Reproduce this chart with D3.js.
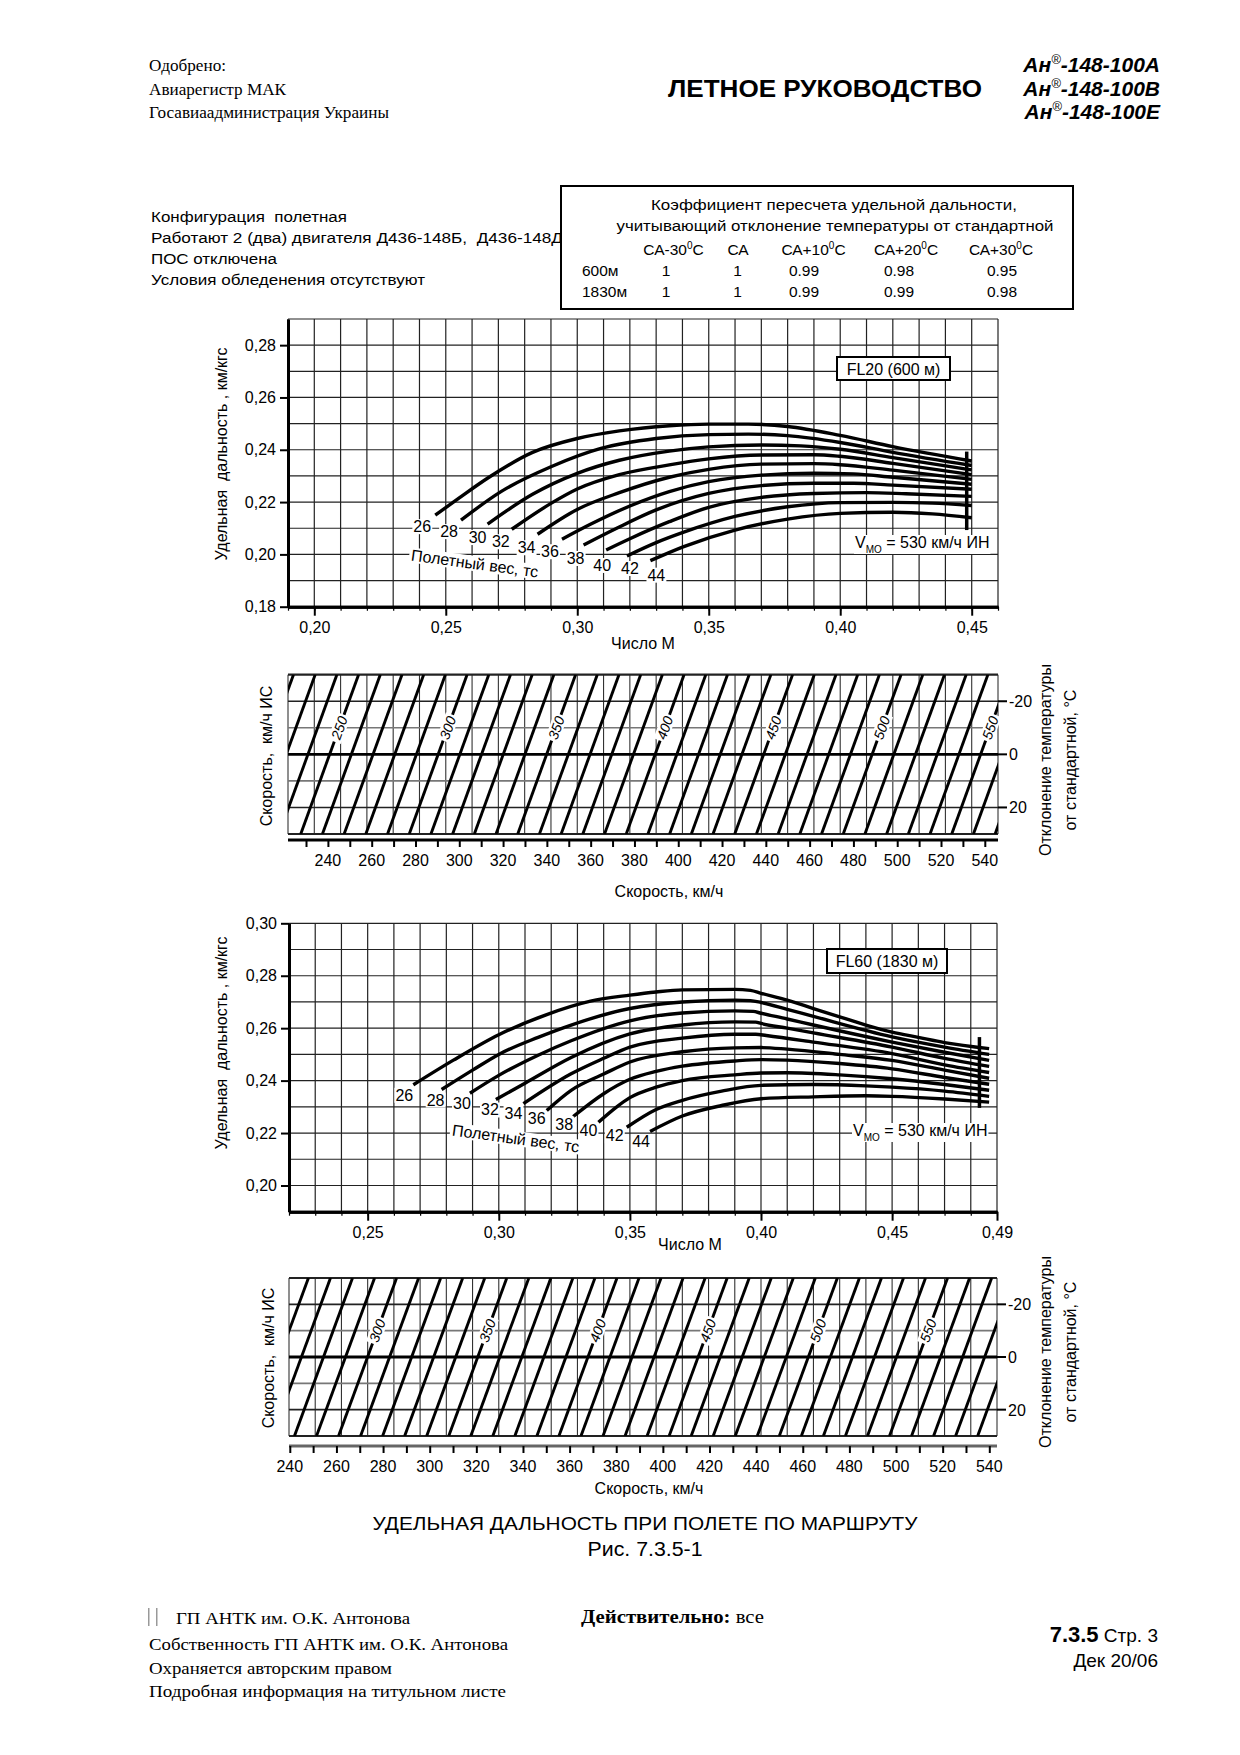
<!DOCTYPE html>
<html><head><meta charset="utf-8">
<script src="https://cdn.jsdelivr.net/npm/d3@7"></script>
<style>
body{margin:0;background:#fff;}
svg text{font-family:"Liberation Sans",Arial,sans-serif;fill:#000;white-space:pre;}
</style></head>
<body><svg id="page" width="1240" height="1755" xmlns="http://www.w3.org/2000/svg"></svg>
<script>
// ---------------- DATA ----------------
const headerLeft = ["Одобрено:", "Авиарегистр МАК", "Госавиаадминистрация Украины"];
const modelNames = ["-148-100A", "-148-100B", "-148-100E"];
const configLines = ["Конфигурация  полетная", "Работают 2 (два) двигателя Д436-148Б,  Д436-148Д", "ПОС отключена", "Условия обледенения отсутствуют"];
const tableTitle = ["Коэффициент пересчета удельной дальности,", "учитывающий отклонение температуры от стандартной"];
const tableCols = [["СА-30", "С"], ["СА", ""], ["СА+10", "С"], ["СА+20", "С"], ["СА+30", "С"]];
const tableRows = ["600м", "1830м"];
const coef600 = ["1", "1", "0.99", "0.98", "0.95"];
const coef1830 = ["1", "1", "0.99", "0.99", "0.98"];

const weights = [26, 28, 30, 32, 34, 36, 38, 40, 42, 44];

// FL20 (600 m): Mach number and specific range (km/kgf) along each weight curve
const fl20Mach = [
 [0.246,0.255,0.266,0.283,0.300,0.316,0.335,0.350,0.365,0.380,0.400,0.420,0.450],
 [0.2558,0.271,0.290,0.309,0.330,0.350,0.365,0.380,0.400,0.420,0.450],
 [0.2659,0.283,0.300,0.316,0.335,0.350,0.370,0.385,0.400,0.420,0.450],
 [0.2751,0.290,0.300,0.316,0.335,0.350,0.370,0.390,0.400,0.420,0.450],
 [0.2849,0.300,0.316,0.335,0.350,0.370,0.390,0.400,0.420,0.450],
 [0.2942,0.305,0.320,0.335,0.350,0.370,0.390,0.405,0.420,0.450],
 [0.3024,0.315,0.330,0.350,0.370,0.390,0.405,0.420,0.450],
 [0.3110,0.320,0.335,0.350,0.370,0.390,0.410,0.425,0.450],
 [0.3189,0.330,0.3405,0.360,0.380,0.400,0.420,0.435,0.450],
 [0.3278,0.3405,0.360,0.380,0.400,0.420,0.435,0.450]
];
const fl20Range = [
 [0.2150,0.2215,0.2292,0.2390,0.2443,0.2472,0.2492,0.2498,0.2498,0.2489,0.2455,0.2412,0.2357],
 [0.2131,0.2240,0.2335,0.2405,0.2443,0.2458,0.2460,0.2454,0.2428,0.2390,0.2340],
 [0.2116,0.2230,0.2310,0.2360,0.2395,0.2411,0.2418,0.2415,0.2402,0.2370,0.2323],
 [0.2096,0.2195,0.2250,0.2305,0.2342,0.2365,0.2380,0.2381,0.2375,0.2348,0.2305],
 [0.2077,0.2172,0.2236,0.2295,0.2325,0.2345,0.2347,0.2343,0.2322,0.2287],
 [0.2058,0.2115,0.2185,0.2240,0.2278,0.2303,0.2310,0.2308,0.2295,0.2268],
 [0.2036,0.2100,0.2170,0.2233,0.2263,0.2272,0.2272,0.2265,0.2249],
 [0.2017,0.2060,0.2125,0.2180,0.2218,0.2233,0.2236,0.2232,0.2222],
 [0.1994,0.2045,0.2085,0.2145,0.2182,0.2198,0.2199,0.2196,0.2187],
 [0.1976,0.2030,0.2093,0.2135,0.2157,0.2161,0.2155,0.2140]
];

// FL60 (1830 m)
const fl60Mach = [
 [0.2674,0.2827,0.300,0.3183,0.335,0.350,0.360,0.370,0.390,0.396,0.400,0.410,0.420,0.430,0.440,0.450,0.460,0.470,0.487],
 [0.2782,0.290,0.300,0.315,0.3276,0.350,0.370,0.390,0.396,0.400,0.410,0.420,0.450,0.470,0.487],
 [0.2890,0.300,0.315,0.3276,0.350,0.370,0.390,0.397,0.400,0.410,0.420,0.450,0.470,0.487],
 [0.2989,0.310,0.3276,0.350,0.370,0.390,0.398,0.400,0.410,0.420,0.450,0.470,0.487],
 [0.3094,0.3276,0.340,0.350,0.370,0.390,0.398,0.402,0.420,0.450,0.470,0.487],
 [0.3183,0.3276,0.340,0.350,0.370,0.390,0.400,0.410,0.430,0.450,0.470,0.487],
 [0.3284,0.340,0.350,0.360,0.370,0.390,0.400,0.410,0.430,0.450,0.470,0.487],
 [0.3380,0.345,0.350,0.360,0.370,0.390,0.400,0.410,0.430,0.450,0.470,0.487],
 [0.3488,0.360,0.370,0.385,0.400,0.420,0.440,0.450,0.470,0.487],
 [0.3577,0.370,0.385,0.400,0.420,0.440,0.450,0.470,0.487]
];
const fl60Range = [
 [0.2384,0.2478,0.2575,0.2652,0.2703,0.2726,0.2738,0.2746,0.2748,0.2744,0.2733,0.2707,0.2675,0.2643,0.2612,0.2585,0.2565,0.2545,0.2522],
 [0.2366,0.2440,0.2500,0.2565,0.2612,0.2675,0.2700,0.2707,0.2705,0.2698,0.2672,0.2645,0.2567,0.2528,0.2500],
 [0.2352,0.2420,0.2497,0.2552,0.2628,0.2658,0.2666,0.2664,0.2657,0.2635,0.2612,0.2547,0.2508,0.2477],
 [0.2328,0.2390,0.2488,0.2578,0.2612,0.2624,0.2623,0.2618,0.2600,0.2582,0.2528,0.2485,0.2454],
 [0.2312,0.2426,0.2485,0.2528,0.2562,0.2577,0.2577,0.2572,0.2547,0.2503,0.2460,0.2431],
 [0.2286,0.2363,0.2425,0.2471,0.2510,0.2525,0.2526,0.2520,0.2500,0.2477,0.2440,0.2409],
 [0.2263,0.2350,0.2405,0.2435,0.2455,0.2475,0.2480,0.2478,0.2465,0.2445,0.2412,0.2386],
 [0.2241,0.2300,0.2335,0.2375,0.2400,0.2422,0.2429,0.2430,0.2422,0.2407,0.2385,0.2363],
 [0.2222,0.2290,0.2325,0.2360,0.2382,0.2385,0.2380,0.2375,0.2360,0.2340],
 [0.2206,0.2265,0.2305,0.2331,0.2338,0.2342,0.2340,0.2330,0.2318]
];

const fl20XTicks = [0.20, 0.25, 0.30, 0.35, 0.40, 0.45];
const fl20YTicks = [0.18, 0.20, 0.22, 0.24, 0.26, 0.28];
const fl60XTicks = [0.25, 0.30, 0.35, 0.40, 0.45, 0.49];
const fl60YTicks = [0.20, 0.22, 0.24, 0.26, 0.28, 0.30];

// Vmo = 530 km/h IAS limit marks
const vmo20Mach = 0.4481, vmo20Range = [0.2093, 0.2393];
const vmo60Mach = 0.4833, vmo60Range = [0.2296, 0.2566];

// Speed nomograms
const speedLabels = [240, 260, 280, 300, 320, 340, 360, 380, 400, 420, 440, 460, 480, 500, 520, 540];
const speedTicks600 = [230, 240, 250, 260, 270, 280, 290, 300, 310, 320, 330, 340, 350, 360, 370, 380, 390, 400, 410, 420, 430, 440, 450, 460, 470, 480, 490, 500, 510, 520, 530, 540];
const speedTicks1830 = [240, 250, 260, 270, 280, 290, 300, 310, 320, 330, 340, 350, 360, 370, 380, 390, 400, 410, 420, 430, 440, 450, 460, 470, 480, 490, 500, 510, 520, 530, 540];
const tempTicks = [-20, 0, 20];
const tempGrid = [-30, -20, -10, 0, 10, 20, 30];
const iasLabels600 = [250, 300, 350, 400, 450, 500, 550];
const iasLabels1830 = [300, 350, 400, 450, 500, 550];
// IAS line position (speed axis units) where it crosses the -10 deg line
const ias600Ref = [250, 550], speed600Ref = [245.2, 542.5];
const ias1830Ref = [300, 550], speed1830Ref = [277.5, 513.8];
// horizontal shift of IAS lines at -30 and +30 deg (speed units)
const shift600 = [8.8, -17.6];
const shift1830 = [8.3, -16.6];

// ---------------- DRAWING ----------------
const svg = d3.select("#page");
const defs = svg.append("defs");
const SANS = '"Liberation Sans",Arial,sans-serif';
const SERIF = '"Liberation Serif","Times New Roman",serif';
const fmt = d => d3.format(".2f")(d).replace(".", ",");

function txt(g, x, y, s, o = {}) {
  const t = g.append("text").attr("x", x).attr("y", y).text(s);
  t.attr("font-size", o.size || 16);
  if (o.anchor) t.attr("text-anchor", o.anchor);
  if (o.weight) t.attr("font-weight", o.weight);
  if (o.style) t.attr("font-style", o.style);
  if (o.family) t.attr("font-family", o.family).style("font-family", o.family);
  if (o.len) t.attr("textLength", o.len).attr("lengthAdjust", "spacingAndGlyphs");
  if (o.rotate != null) t.attr("transform", `rotate(${o.rotate},${x},${y})`);
  return t;
}
function knock(g, t, px = 2, py = 0) {
  const b = t.node().getBBox();
  const r = g.insert("rect", () => t.node())
    .attr("x", b.x - px).attr("y", b.y - py).attr("width", b.width + 2 * px).attr("height", b.height + 2 * py)
    .attr("fill", "#fff");
  if (t.attr("transform")) r.attr("transform", t.attr("transform"));
  return r;
}

// ---- header ----
const hdr = svg.append("g");
headerLeft.forEach((s, i) => txt(hdr, 149, 71 + i * 23.5, s, { size: 16, family: SERIF, len: [77, 137, 240][i] }));
txt(hdr, 668, 97, "ЛЕТНОЕ РУКОВОДСТВО", { size: 23, weight: "bold", len: 314 });
modelNames.forEach((s, i) => {
  const t = hdr.append("text").attr("x", 1160).attr("y", 72 + i * 23.5).attr("text-anchor", "end")
    .attr("font-size", 21).attr("font-weight", "bold").attr("font-style", "italic");
  t.append("tspan").text("Ан");
  t.append("tspan").attr("font-size", 13).attr("dy", -8).attr("font-weight", "normal").text("®");
  t.append("tspan").attr("dy", 8).text(s);
});

// ---- configuration text ----
const cfg = svg.append("g");
configLines.forEach((s, i) => txt(cfg, 151, 221.5 + i * 21.3, s, { size: 15.5, len: [196, 412, 126, 274][i] }));

// ---- table ----
const tb = svg.append("g");
tb.append("rect").attr("x", 561).attr("y", 186).attr("width", 512).attr("height", 123)
  .attr("fill", "#fff").attr("stroke", "#000").attr("stroke-width", 2);
txt(tb, 834, 210, tableTitle[0], { size: 15.5, anchor: "middle", len: 366 });
txt(tb, 835, 230.5, tableTitle[1], { size: 15.5, anchor: "middle", len: 437 });
const colX = [673.5, 738, 813.5, 906, 1001];
tableCols.forEach((c, i) => {
  const t = tb.append("text").attr("x", colX[i]).attr("y", 255).attr("text-anchor", "middle").attr("font-size", 15.5);
  t.append("tspan").text(c[0]);
  if (c[1]) {
    t.append("tspan").attr("font-size", 10).attr("dy", -6).text("0");
    t.append("tspan").attr("dy", 6).text(c[1]);
  }
});
const valX = [666, 737.5, 804, 899, 1002];
[coef600, coef1830].forEach((row, r) => {
  const y = 276 + r * 21.3;
  txt(tb, 582, y, tableRows[r], { size: 15.5 });
  row.forEach((v, i) => txt(tb, valX[i], y, v, { size: 15.5, anchor: "middle" }));
});

// ---- main chart ----
function mainChart(x, y, xTicks, yTicks, machArr, rangeArr, o) {
  const g = svg.append("g");
  const [x0, x1] = x.domain(), [y0, y1] = y.domain();
  const vx = d3.range(Math.round(x0 * 100), Math.round(x1 * 100) + 1).map(d => d / 100);
  const hy = d3.range(Math.round(y0 * 100), Math.round(y1 * 100) + 1).map(d => d / 100);
  g.append("g").selectAll("line").data(vx).join("line")
    .attr("x1", d => x(d)).attr("x2", d => x(d)).attr("y1", y(y0)).attr("y2", y(y1))
    .attr("stroke", "#222").attr("stroke-width", 1.2);
  g.append("g").selectAll("line").data(hy).join("line")
    .attr("y1", d => y(d)).attr("y2", d => y(d)).attr("x1", x(x0)).attr("x2", x(x1))
    .attr("stroke", "#222").attr("stroke-width", 1.2);

  // axes
  const ay = g.append("g").attr("transform", `translate(${x(x0)},0)`)
    .call(d3.axisLeft(y).tickValues(yTicks).tickSize(8).tickSizeOuter(0).tickPadding(4).tickFormat(fmt));
  const axm = g.append("g").attr("transform", `translate(0,${y(y0)})`)
    .call(d3.axisBottom(x).tickValues(vx).tickSize(4).tickSizeOuter(0).tickFormat(""));
  const ax = g.append("g").attr("transform", `translate(0,${y(y0)})`)
    .call(d3.axisBottom(x).tickValues(xTicks).tickSize(9).tickSizeOuter(0).tickPadding(6).tickFormat(fmt));
  [ay, ax, axm].forEach(a => {
    a.attr("font-size", 16).attr("font-family", SANS);
    a.select(".domain").attr("stroke-width", 3).attr("stroke", "#000");
    a.selectAll(".tick line").attr("stroke-width", 2).attr("stroke", "#000");
    a.selectAll(".tick text").attr("fill", "#000");
  });
  axm.selectAll(".tick line").attr("stroke-width", 1.2);

  // curves
  const line = d3.line().x(d => x(d[0])).y(d => y(d[1])).curve(d3.curveMonotoneX);
  const cg = g.append("g");
  weights.forEach((w, i) => {
    const pts = machArr[i].map((m, j) => [m, rangeArr[i][j]]);
    cg.append("path").attr("d", line(pts)).attr("fill", "none").attr("stroke", "#000").attr("stroke-width", 3.4);
  });

  // Vmo line
  g.append("line").attr("x1", x(o.vmoMach)).attr("x2", x(o.vmoMach))
    .attr("y1", y(o.vmoRange[0])).attr("y2", y(o.vmoRange[1])).attr("stroke", "#000").attr("stroke-width", 3.5);

  // weight labels
  const lg = g.append("g");
  weights.forEach((w, i) => {
    const sx = x(machArr[i][0]) + o.labelOff[i][0], sy = y(rangeArr[i][0]) + o.labelOff[i][1];
    const t = txt(lg, sx, sy + 6, String(w), { size: 16, anchor: "middle" });
    knock(lg, t, 1, -1);
  });
  const pw = txt(lg, o.pw[0], o.pw[1], "Полетный вес, тс", { size: 16, anchor: "middle", rotate: 7.7 });
  knock(lg, pw, 2, -1);

  // Vmo label
  const vt = lg.append("text").attr("x", o.vmoLbl[0]).attr("y", o.vmoLbl[1]).attr("font-size", 16);
  vt.append("tspan").text("V");
  vt.append("tspan").attr("font-size", 10).attr("dy", 5).text("MO");
  vt.append("tspan").attr("dy", -5).text(" = 530 км/ч ИН");
  knock(lg, vt, 1, -1);

  // flight level box
  const fb = g.append("g");
  fb.append("rect").attr("x", o.box[0]).attr("y", o.box[1]).attr("width", o.box[2]).attr("height", o.box[3])
    .attr("fill", "#fff").attr("stroke", "#000").attr("stroke-width", 2);
  txt(fb, o.box[0] + o.box[2] / 2, o.box[1] + o.box[3] / 2 + 6, o.boxText, { size: 16, anchor: "middle" });

  // axis titles
  txt(g, o.ylab[0], o.ylab[1], "Удельная  дальность , км/кгс", { size: 16, anchor: "middle", rotate: -90 });
  txt(g, o.xlab[0], o.xlab[1], "Число М", { size: 16, anchor: "middle" });
  return g;
}

const x20 = d3.scaleLinear().domain([0.19, 0.46]).range([288, 998]);
const y20 = d3.scaleLinear().domain([0.18, 0.29]).range([606.7, 319]);
mainChart(x20, y20, fl20XTicks, fl20YTicks, fl20Mach, fl20Range, {
  vmoMach: vmo20Mach, vmoRange: vmo20Range,
  labelOff: [[-13, 11], [-12, 11], [-10, 13], [-11, 12], [-11, 13], [-12, 12], [-8, 13], [-4, 15], [3, 12], [6, 14]],
  pw: [474, 569], vmoLbl: [855, 548], box: [837, 357, 113, 23], boxText: "FL20 (600 м)",
  ylab: [227, 454], xlab: [643, 649]
});

const x60 = d3.scaleLinear().domain([0.22, 0.49]).range([289, 997]);
const y60 = d3.scaleLinear().domain([0.19, 0.30]).range([1211.7, 923.3]);
mainChart(x60, y60, fl60XTicks, fl60YTicks, fl60Mach, fl60Range, {
  vmoMach: vmo60Mach, vmoRange: vmo60Range,
  labelOff: [[-9, 10], [-6, 10], [-8, 10], [-6, 10], [-10, 9], [-10, 8], [-9, 7], [-10, 8], [-12, 8], [-9, 10]],
  pw: [515, 1144], vmoLbl: [853, 1136], box: [827, 949, 120, 24], boxText: "FL60 (1830 м)",
  ylab: [227, 1043], xlab: [690, 1250]
});

// ---- nomograms ----
function nomogram(xM, s, t, iasRef, speedRef, shiftR, iasLabels, ticks, o) {
  const g = svg.append("g");
  const xl = xM.range()[0], xr = xM.range()[1], yt = t(-30), yb = t(30);
  const cid = "clip" + o.id;
  defs.append("clipPath").attr("id", cid).append("rect").attr("x", xl).attr("y", yt).attr("width", xr - xl).attr("height", yb - yt);
  const [m0, m1] = xM.domain();
  const vx = d3.range(Math.round(m0 * 100), Math.round(m1 * 100) + 1).map(d => d / 100);
  g.append("g").selectAll("line").data(vx).join("line")
    .attr("x1", d => xM(d)).attr("x2", d => xM(d)).attr("y1", yt).attr("y2", yb)
    .attr("stroke", "#333").attr("stroke-width", 1.1);
  g.append("g").selectAll("line").data(tempGrid).join("line")
    .attr("x1", xl).attr("x2", xr).attr("y1", d => t(d)).attr("y2", d => t(d))
    .attr("stroke", d => d === 0 ? "#000" : (Math.abs(d) === 10 ? "#777" : "#222"))
    .attr("stroke-width", d => d === 0 ? 2.8 : (Math.abs(d) === 30 ? 2.2 : 1.6));

  const ias = d3.scaleLinear().domain(iasRef).range(speedRef);
  const sh = d3.scaleLinear().domain([-30, 30]).range(shiftR);
  const lines = d3.range(150, 660, 10);
  g.append("g").attr("clip-path", `url(#${cid})`).selectAll("line").data(lines).join("line")
    .attr("x1", v => s(ias(v) + sh(-30))).attr("y1", yt)
    .attr("x2", v => s(ias(v) + sh(30))).attr("y2", yb)
    .attr("stroke", "#000").attr("stroke-width", 2.9);

  // labels on IAS lines
  const dx = s(ias(300) + sh(-30)) - s(ias(300) + sh(30)), dy = yb - yt;
  const ang = -Math.atan2(dy, dx) * 180 / Math.PI;
  const lg = g.append("g");
  iasLabels.forEach(v => {
    const px = s(ias(v) + sh(-10)), py = t(-10);
    const tt = txt(lg, px, py + 5, String(v), { size: 14, anchor: "middle", style: "italic" });
    tt.attr("transform", `rotate(${ang},${px},${py})`);
    knock(lg, tt, 2, -1);
  });

  // temperature axis on right
  tempTicks.forEach(d => {
    g.append("line").attr("x1", xr).attr("x2", xr + 9).attr("y1", t(d)).attr("y2", t(d)).attr("stroke", "#000").attr("stroke-width", 2);
    txt(g, xr + 11, t(d) + 6, String(d), { size: 16 });
  });

  // speed axis
  const ay = o.axisY;
  g.append("line").attr("x1", xl).attr("x2", xr).attr("y1", ay).attr("y2", ay).attr("stroke", o.axisColor).attr("stroke-width", 3);
  const ax = g.append("g").attr("transform", `translate(0,${ay})`)
    .call(d3.axisBottom(s).tickValues(ticks).tickSize(7).tickSizeOuter(0).tickFormat(""));
  ax.select(".domain").remove();
  ax.selectAll(".tick line").attr("stroke", "#000").attr("stroke-width", 2);
  speedLabels.forEach(v => txt(g, s(v), ay + 26, String(v), { size: 16, anchor: "middle" }));
  txt(g, o.xlab[0], o.xlab[1], "Скорость, км/ч", { size: 16, anchor: "middle" });
  txt(g, o.ylab[0], o.ylab[1], "Скорость,  км/ч ИС", { size: 16, anchor: "middle", rotate: -90 });
  txt(g, o.rlab[0], o.rlab[1], "Отклонение температуры", { size: 16, anchor: "middle", rotate: -90 });
  txt(g, o.rlab[0] + 25, o.rlab[1], "от стандартной, °С", { size: 16, anchor: "middle", rotate: -90 });
}

const s600 = d3.scaleLinear().domain([240, 540]).range([327.9, 984.8]);
const t600 = d3.scaleLinear().domain([-30, 30]).range([674.7, 834]);
nomogram(x20, s600, t600, ias600Ref, speed600Ref, shift600, iasLabels600, speedTicks600, {
  id: 1, axisY: 840, axisColor: "#000", xlab: [669, 897], ylab: [272, 756], rlab: [1051, 760]
});
const s1830 = d3.scaleLinear().domain([240, 540]).range([289.8, 989.3]);
const t1830 = d3.scaleLinear().domain([-30, 30]).range([1278, 1436]);
nomogram(x60, s1830, t1830, ias1830Ref, speed1830Ref, shift1830, iasLabels1830, speedTicks1830, {
  id: 2, axisY: 1446, axisColor: "#666", xlab: [649, 1494], ylab: [274, 1358], rlab: [1051, 1352]
});

// ---- captions / footer ----
const ft = svg.append("g");
txt(ft, 645, 1530, "УДЕЛЬНАЯ ДАЛЬНОСТЬ ПРИ ПОЛЕТЕ ПО МАРШРУТУ", { size: 19, anchor: "middle", len: 545 });
txt(ft, 645, 1556, "Рис. 7.3.5-1", { size: 20, anchor: "middle", len: 115 });
ft.append("rect").attr("x", 148).attr("y", 1608).attr("width", 1.5).attr("height", 18).attr("fill", "#999");
ft.append("rect").attr("x", 156).attr("y", 1608).attr("width", 1.5).attr("height", 18).attr("fill", "#999");
txt(ft, 176, 1624, "ГП АНТК им. О.К. Антонова", { size: 16, family: SERIF, len: 234 });
txt(ft, 149, 1650, "Собственность ГП АНТК им. О.К. Антонова", { size: 16, family: SERIF, len: 359 });
txt(ft, 149, 1674, "Охраняется авторским правом", { size: 16, family: SERIF, len: 243 });
txt(ft, 149, 1697, "Подробная информация на титульном листе", { size: 16, family: SERIF, len: 357 });
const dv = ft.append("text").attr("x", 581).attr("y", 1623).attr("font-size", 19).style("font-family", SERIF)
  .attr("textLength", 183).attr("lengthAdjust", "spacingAndGlyphs");
dv.append("tspan").attr("font-weight", "bold").text("Действительно:");
dv.append("tspan").text(" все");
const pg = ft.append("text").attr("x", 1158).attr("y", 1642).attr("text-anchor", "end").attr("font-size", 19);
pg.append("tspan").attr("font-weight", "bold").attr("font-size", 22).text("7.3.5");
pg.append("tspan").text(" Стр. 3");
txt(ft, 1158, 1667, "Дек 20/06", { size: 19, anchor: "end" });
</script>
</body></html>
